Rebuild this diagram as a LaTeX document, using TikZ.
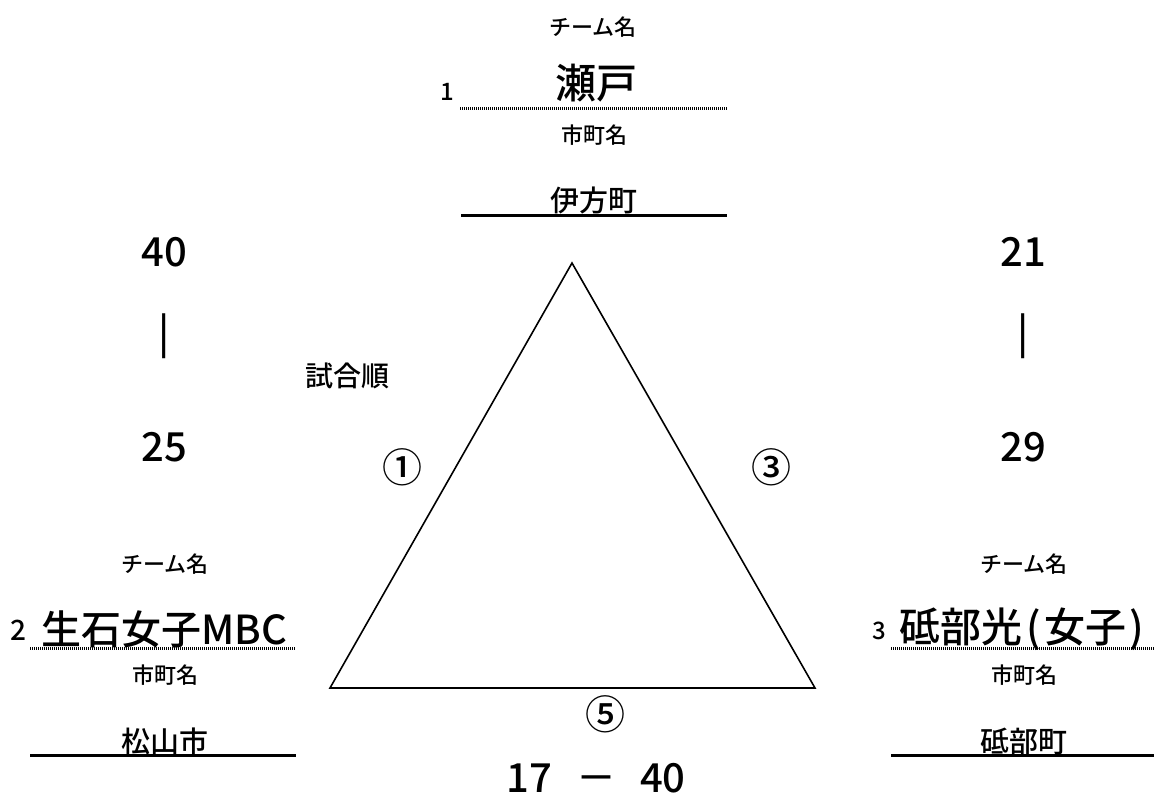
\documentclass[tikz,border=0pt]{standalone}
\usepackage{fontspec}
\setmainfont{Noto Sans CJK JP}[UprightFont={* Medium}]
\newcommand{\fsz}[1]{\fontsize{#1}{#1}\selectfont}
\begin{document}
\begin{tikzpicture}[x=1pt,y=-1pt,
  txt/.style={inner sep=0pt,anchor=center},
  small/.style={txt,font=\fsz{22}},
  num/.style={txt,font=\fsz{24}},
  team/.style={txt,font=\fsz{41}},
  city/.style={txt,font=\fsz{29}},
  score/.style={txt,font=\fsz{40}},
  circ/.style={txt,font=\fsz{40}},
  dotline/.style={line width=3pt,dash pattern=on 1pt off 1pt},
  solidline/.style={line width=3pt},
  tri/.style={line width=1.6pt,line join=miter}]
\useasboundingbox (0,0) rectangle (1154,798);
% top team
\node[small] (t1lab) at (593,27) {チーム名};
\node[num] (t1num) at (447,92) {1};
\node[team] (t1name) at (596,83) {瀬戸};
\coordinate (t1a) at (460,108); \coordinate (t1b) at (727,108);
\draw[dotline] (t1a) -- (t1b);
\node[small] (t1clab) at (594,135) {市町名};
\node[city] (t1city) at (594,200) {伊方町};
\coordinate (t1c) at (461,215); \coordinate (t1d) at (727,215);
\draw[solidline] (t1c) -- (t1d);
% triangle
\coordinate (A) at (572,263);
\coordinate (B) at (330,688);
\coordinate (C) at (815,688);
\draw[tri] (A) -- (B) -- (C) -- cycle;
% scores left
\node[score] (s1a) at (164,252) {40};
\node[score] (s1b) at (164,336) {|};
\node[score] (s1c) at (164,447) {25};
% scores right
\node[score] (s3a) at (1023,252) {21};
\node[score] (s3b) at (1023,336) {|};
\node[score] (s3c) at (1023,447) {29};
\node[txt,font=\fsz{28}] (order) at (347,376) {試合順};
\node[circ] (m1) at (402,467) {①};
\node[circ] (m3) at (771,467) {③};
\node[circ] (m5) at (605,714) {⑤};
\node[score] (s5) at (596,778) {17\hspace{0.6em}－\hspace{0.6em}40};
% left team
\node[small] (t2lab) at (165,564) {チーム名};
\node[num,font=\fsz{28}] (t2num) at (18,630) {2};
\node[team,font=\fsz{40}] (t2name) at (164,629) {生石女子MBC};
\coordinate (t2a) at (30,648); \coordinate (t2b) at (296,648);
\draw[dotline] (t2a) -- (t2b);
\node[small] (t2clab) at (165,675) {市町名};
\node[city] (t2city) at (165,741) {松山市};
\coordinate (t2c) at (30,755); \coordinate (t2d) at (296,755);
\draw[solidline] (t2c) -- (t2d);
% right team
\node[small] (t3lab) at (1024,564) {チーム名};
\node[num] (t3num) at (879,631) {3};
\node[team] (t3name) at (1024,629) {砥部光\kern4pt(\kern3pt女子\kern3pt)\kern4pt};
\coordinate (t3a) at (891,648); \coordinate (t3b) at (1154,648);
\draw[dotline] (t3a) -- (t3b);
\node[small] (t3clab) at (1024,675) {市町名};
\node[city] (t3city) at (1024,741) {砥部町};
\coordinate (t3c) at (891,755); \coordinate (t3d) at (1154,755);
\draw[solidline] (t3c) -- (t3d);
\end{tikzpicture}
\end{document}
